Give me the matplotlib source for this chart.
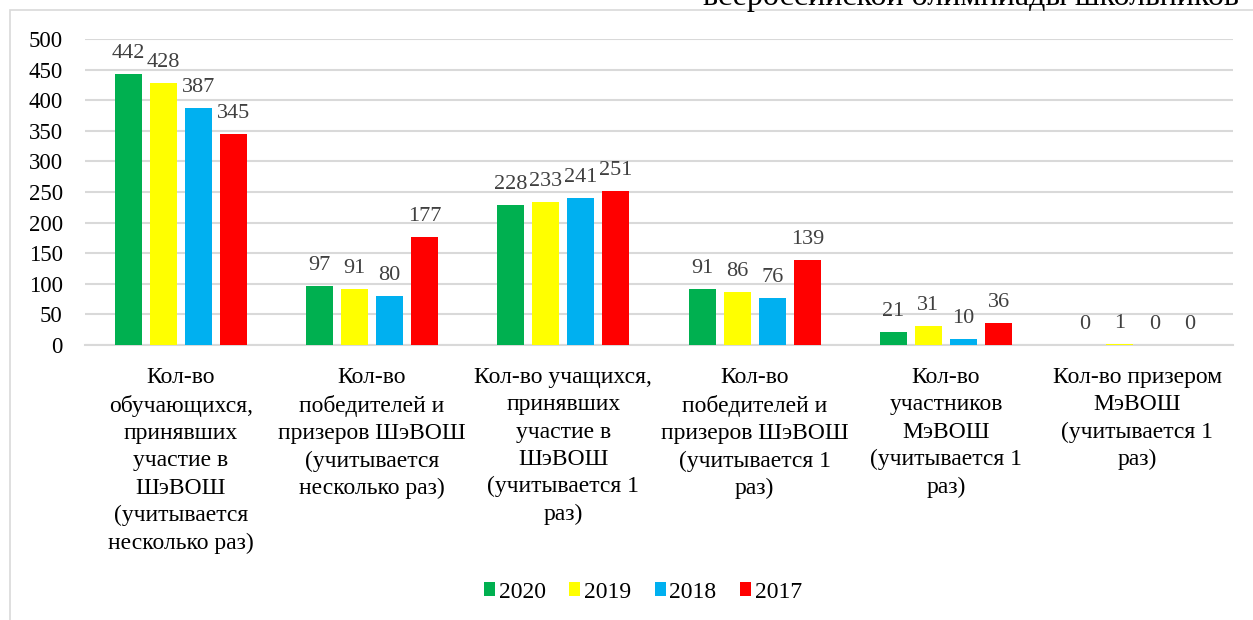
import matplotlib
matplotlib.use("Agg")
import matplotlib.pyplot as plt
from matplotlib.patches import Rectangle
import numpy as np

SERIF = "Liberation Serif"
plt.rcParams["font.family"] = SERIF

categories = [
    "Кол-во\nобучающихся,\nпринявших\nучастие в\nШэВОШ\n(учитывается\nнесколько раз)",
    "Кол-во\nпобедителей и\nпризеров ШэВОШ\n(учитывается\nнесколько раз)",
    "Кол-во учащихся,\nпринявших\nучастие в\nШэВОШ\n(учитывается 1\nраз)",
    "Кол-во\nпобедителей и\nпризеров ШэВОШ\n(учитывается 1\nраз)",
    "Кол-во\nучастников\nМэВОШ\n(учитывается 1\nраз)",
    "Кол-во призером\nМэВОШ\n(учитывается 1\nраз)",
]
years = ["2020", "2019", "2018", "2017"]
v2020 = [442, 97, 228, 91, 21, 0]
v2019 = [428, 91, 233, 86, 31, 1]
v2018 = [387, 80, 241, 76, 10, 0]
v2017 = [345, 177, 251, 139, 36, 0]
series = [v2020, v2019, v2018, v2017]
colors = ["#00B050", "#FFFF00", "#00B0F0", "#FF0000"]
yticks = [0, 50, 100, 150, 200, 250, 300, 350, 400, 450, 500]
title_tail = "всероссийской олимпиады школьников"

W, H = 1253, 620
fig = plt.figure(figsize=(W / 100, H / 100), dpi=100)
fig.patch.set_facecolor("white")

# outer chart frame (extends beyond image on right/bottom)
fig.add_artist(Rectangle((10 / W, -0.05), 1.2, (H - 10) / H + 0.05,
                         transform=fig.transFigure, fill=False,
                         edgecolor="#d9d9d9", lw=1.2))
# clipped title text at the top
fig.text(1239 / W, (H - 4.5) / H, title_tail, ha="right", va="baseline",
         fontsize=23, color="black", family=SERIF)

ax = fig.add_axes([85 / W, 1 - 345 / H, (1233 - 85) / W, (345 - 39) / H])
ax.set_facecolor("none")
x = np.arange(len(categories))
pitch = 35 / 191
bw = 27 / 191
for i, (vals, c, lab) in enumerate(zip(series, colors, years)):
    pos = x + (i - 1.5) * pitch
    bars = ax.bar(pos, vals, width=bw, color=c, label=lab, zorder=3)
    for b, v in zip(bars, vals):
        ax.annotate(str(v), (b.get_x() + b.get_width() / 2, v),
                    xytext=(0, 11), textcoords="offset pixels",
                    ha="center", va="bottom", fontsize=16, color="#404040",
                    family=SERIF, zorder=4)

ax.set_xlim(-0.5, len(categories) - 0.5)
ax.set_ylim(0, 500)
ax.set_yticks(yticks)
ax.set_yticklabels([str(t) for t in yticks], fontsize=16.5, color="black",
                   family=SERIF)
ax.yaxis.grid(True, color="#d9d9d9", lw=1.5, zorder=0)
ax.set_axisbelow(True)
ax.tick_params(axis="y", length=0, pad=16)
ax.set_xticks(x)
ax.set_xticklabels(categories, fontsize=17, color="black", linespacing=1.39,
                   family=SERIF)
ax.tick_params(axis="x", length=0, pad=16)
for s in ["top", "right", "left"]:
    ax.spines[s].set_visible(False)
ax.spines["bottom"].set_color("#d9d9d9")
ax.spines["bottom"].set_linewidth(1.5)

handles, labels = ax.get_legend_handles_labels()
fig.legend(handles, labels, loc="center", bbox_to_anchor=(643 / W, 1 - 592 / H),
           ncol=4, frameon=False, prop={"family": SERIF, "size": 17},
           handlelength=0.47, handleheight=0.5, handletextpad=0.15,
           columnspacing=1.0)

fig.savefig("out.png", dpi=100, facecolor="white")
